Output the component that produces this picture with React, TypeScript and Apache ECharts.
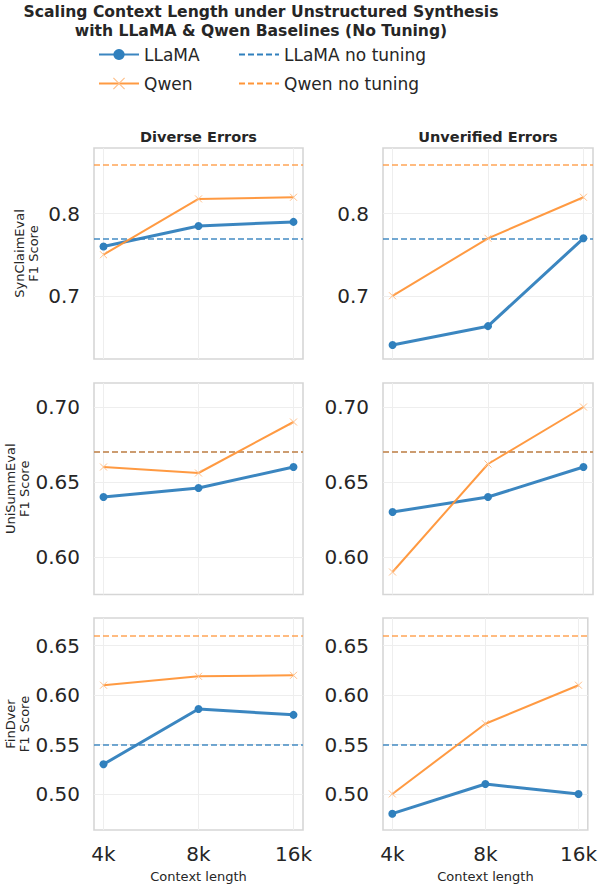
import React, { useEffect, useRef } from 'react';
import * as echarts from 'echarts';

// ---------- data ----------
const contextLengths = ['4k', '8k', '16k'];
const datasets = ['SynClaimEval', 'UniSummEval', 'FinDver'];
const settings = ['Diverse Errors', 'Unverified Errors'];

const llamaSynDiverse = [0.76, 0.785, 0.79];
const qwenSynDiverse = [0.75, 0.818, 0.82];
const llamaSynUnverified = [0.64, 0.663, 0.77];
const qwenSynUnverified = [0.7, 0.77, 0.82];

const llamaUniDiverse = [0.64, 0.646, 0.66];
const qwenUniDiverse = [0.66, 0.656, 0.69];
const llamaUniUnverified = [0.63, 0.64, 0.66];
const qwenUniUnverified = [0.59, 0.662, 0.7];

const llamaFinDiverse = [0.53, 0.586, 0.58];
const qwenFinDiverse = [0.61, 0.619, 0.62];
const llamaFinUnverified = [0.48, 0.51, 0.5];
const qwenFinUnverified = [0.5, 0.571, 0.61];

const llamaNoTuning = [0.77, 0.67, 0.55];
const qwenNoTuning = [0.86, 0.67, 0.66];

const yTicksSyn = [0.7, 0.8];
const yTicksUni = [0.6, 0.65, 0.7];
const yTicksFin = [0.5, 0.55, 0.6, 0.65];
const yTickDecimals = [1, 2, 2];

const yMinByRow = [0.623, 0.575, 0.4635];
const yMaxByRow = [0.88, 0.716, 0.678];

const llamaByPanel = [
  [llamaSynDiverse, llamaSynUnverified],
  [llamaUniDiverse, llamaUniUnverified],
  [llamaFinDiverse, llamaFinUnverified],
];
const qwenByPanel = [
  [qwenSynDiverse, qwenSynUnverified],
  [qwenUniDiverse, qwenUniUnverified],
  [qwenFinDiverse, qwenFinUnverified],
];
const yTicksByRow = [yTicksSyn, yTicksUni, yTicksFin];

// ---------- styles ----------
const BLUE = '#3080bd';
const ORANGE = '#ff9538';
const TEXT = '#262626';
const X_MARK = 'path://M0,0L10,10M10,0L0,10';

const colLeft = [94, 383];
const colWidth = [209, 210];
const rowTop = [148, 383, 618];
const rowHeight = [211, 211.5, 212];

export default function App() {
  const ref = useRef<HTMLDivElement>(null);

  useEffect(() => {
    document.body.style.margin = '0';
    if (!ref.current) return;
    const chart = echarts.init(ref.current, undefined, { renderer: 'svg' });

    const grids: any[] = [];
    const xAxes: any[] = [];
    const yAxes: any[] = [];
    const series: any[] = [];
    const xIdx = contextLengths.map((_, i) => i);

    for (let r = 0; r < 3; r++) {
      for (let c = 0; c < 2; c++) {
        const g = r * 2 + c;
        grids.push({
          left: colLeft[c],
          top: rowTop[r],
          width: colWidth[c],
          height: rowHeight[r],
          show: true,
          borderColor: '#d6d6d6',
          borderWidth: 1.6,
          backgroundColor: 'transparent',
        });
        const isBottom = r === 2;
        xAxes.push({
          type: 'value',
          gridIndex: g,
          min: -0.1,
          max: 2.1,
          axisLine: { show: false },
          axisTick: { show: false, customValues: xIdx },
          splitLine: { show: true, lineStyle: { color: '#eeeeee', width: 1 } },
          axisLabel: {
            show: isBottom,
            customValues: xIdx,
            formatter: (v: number) => contextLengths[Math.round(v)],
            fontSize: 20,
            color: TEXT,
            margin: 14,
            fontFamily: 'DejaVu Sans',
          },
          name: isBottom ? 'Context length' : '',
          nameLocation: 'middle',
          nameGap: 40,
          nameTextStyle: { fontSize: 13, color: TEXT, fontFamily: 'DejaVu Sans' },
        });
        yAxes.push({
          type: 'value',
          gridIndex: g,
          min: yMinByRow[r],
          max: yMaxByRow[r],
          axisLine: { show: false },
          axisTick: { show: false, customValues: yTicksByRow[r] },
          splitLine: { show: true, lineStyle: { color: '#eeeeee', width: 1 } },
          axisLabel: {
            customValues: yTicksByRow[r],
            formatter: (v: number) => v.toFixed(yTickDecimals[r]),
            fontSize: 20,
            color: TEXT,
            margin: 14,
            fontFamily: 'DejaVu Sans',
          },
          name: c === 0 ? datasets[r] + '\nF1 Score' : '',
          nameLocation: 'middle',
          nameGap: 54,
          nameTextStyle: { fontSize: 13, lineHeight: 14, color: TEXT, fontFamily: 'DejaVu Sans' },
        });

        const llama = llamaByPanel[r][c];
        const qwen = qwenByPanel[r][c];
        series.push({
          name: 'LLaMA',
          type: 'line',
          xAxisIndex: g,
          yAxisIndex: g,
          data: llama.map((v, i) => [i, v]),
          symbol: 'circle',
          symbolSize: 8,
          z: 4,
          lineStyle: { color: BLUE, width: 3, opacity: 0.95 },
          itemStyle: { color: BLUE },
        });
        series.push({
          name: 'Qwen',
          type: 'line',
          xAxisIndex: g,
          yAxisIndex: g,
          data: qwen.map((v, i) => [i, v]),
          symbol: X_MARK,
          symbolSize: 7,
          z: 5,
          lineStyle: { color: ORANGE, width: 2, opacity: 0.95 },
          itemStyle: { color: 'rgba(0,0,0,0)', borderColor: '#ffc08a', borderWidth: 1 },
        });
        series.push({
          name: 'LLaMA no tuning',
          type: 'line',
          xAxisIndex: g,
          yAxisIndex: g,
          data: [],
          symbol: 'none',
          z: 3,
          lineStyle: { color: BLUE, width: 1.6, type: [6, 3] },
          itemStyle: { color: BLUE, opacity: 0 },
          markLine: {
            silent: true,
            symbol: ['none', 'none'],
            label: { show: false },
            lineStyle: { color: BLUE, width: 1.6, type: [6, 3], opacity: 0.9 },
            data: [{ yAxis: llamaNoTuning[r] }],
          },
        });
        series.push({
          name: 'Qwen no tuning',
          type: 'line',
          xAxisIndex: g,
          yAxisIndex: g,
          data: [],
          symbol: 'none',
          z: 3,
          lineStyle: { color: ORANGE, width: 1.6, type: [6, 3] },
          itemStyle: { color: ORANGE, opacity: 0 },
          markLine: {
            silent: true,
            symbol: ['none', 'none'],
            label: { show: false },
            lineStyle: { color: ORANGE, width: 1.6, type: [6, 3], opacity: 0.85 },
            data: [{ yAxis: qwenNoTuning[r] }],
          },
        });
      }
    }

    const legendBase = {
      itemWidth: 40,
      itemHeight: 14,
      padding: 0,
      textStyle: { fontSize: 17, color: TEXT, fontFamily: 'DejaVu Sans' },
      selectedMode: false,
    };

    chart.setOption({
      animation: false,
      backgroundColor: '#ffffff',
      textStyle: { fontFamily: 'DejaVu Sans' },
      title: [
        {
          text: 'Scaling Context Length under Unstructured Synthesis\nwith LLaMA & Qwen Baselines (No Tuning)',
          left: 261,
          top: 2,
          padding: 0,
          textAlign: 'center',
          textStyle: { fontSize: 15.6, fontWeight: 'bold', color: TEXT, lineHeight: 19.5, fontFamily: 'DejaVu Sans' },
        },
        ...settings.map((s, c) => ({
          text: s,
          left: colLeft[c] + colWidth[c] / 2,
          top: 129,
          padding: 0,
          textAlign: 'center',
          textStyle: { fontSize: 14.5, fontWeight: 'bold', color: TEXT, fontFamily: 'DejaVu Sans' },
        })),
      ],
      legend: [
        { ...legendBase, data: ['LLaMA'], left: 98, top: 46 },
        {
          ...legendBase,
          data: ['Qwen'],
          left: 98,
          top: 75,
          itemStyle: { color: 'rgba(0,0,0,0)', borderColor: '#ffc08a', borderWidth: 1.2 },
        },
        { ...legendBase, data: ['LLaMA no tuning'], left: 238, top: 46 },
        { ...legendBase, data: ['Qwen no tuning'], left: 238, top: 75 },
      ],
      grid: grids,
      xAxis: xAxes,
      yAxis: yAxes,
      series,
    });

    return () => chart.dispose();
  }, []);

  return <div ref={ref} style={{ width: 600, height: 884 }} />;
}
